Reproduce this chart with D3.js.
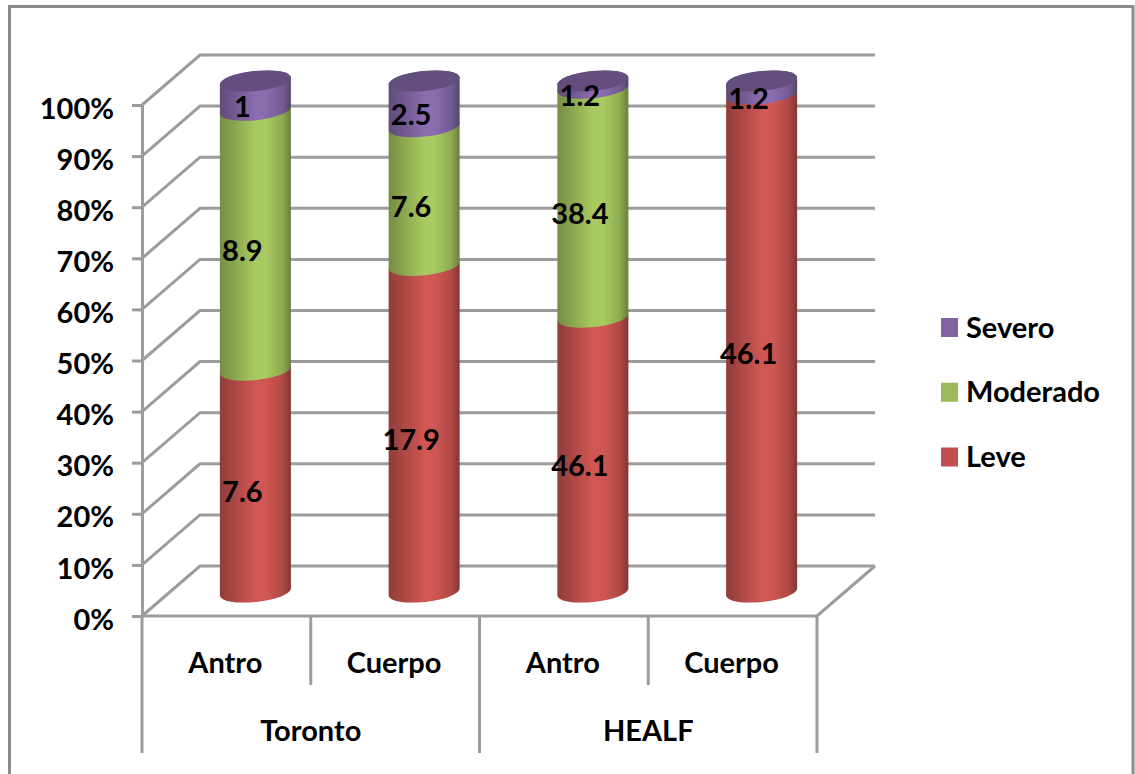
<!DOCTYPE html>
<html>
<head>
<meta charset="utf-8">
<script src="https://cdn.jsdelivr.net/npm/d3@7"></script>
<style>
  html, body { margin: 0; padding: 0; background: #fff; }
  svg { display: block; }
  text { font-family: Lato, "Open Sans", sans-serif; font-weight: 700; fill: #000; }
</style>
</head>
<body>
<svg id="chart" width="1135" height="774"></svg>
<script>
let groups = ["Toronto", "Toronto", "HEALF", "HEALF"];
let sites = ["Antro", "Cuerpo", "Antro", "Cuerpo"];
let keys = ["Leve", "Moderado", "Severo"];
let leve = [7.6, 17.9, 46.1, 46.1];
let moderado = [8.9, 7.6, 38.4, 0];
let severo = [1, 2.5, 1.2, 1.2];
let ticks = [0, 10, 20, 30, 40, 50, 60, 70, 80, 90, 100];
let legendOrder = ["Severo", "Moderado", "Leve"];
let colors = { Leve: "#c0504d", Moderado: "#9bbb59", Severo: "#8064a2" };

let svg = d3.select("#chart");
let defs = svg.append("defs");

// floor and walls sit on these, the bars halfway back
let depthX = 58, depthY = -50;
let tilt = -6, ry = 10;
let lineColor = "#9c9c9c";
let fontSize = "29px";

let rows = sites.map(function(s, i) {
  return { i: i, Leve: leve[i], Moderado: moderado[i], Severo: severo[i] };
});

let xScale = d3.scaleBand().domain(d3.range(sites.length)).range([142, 817]);
let yScale = d3.scaleLinear().domain([0, 1]).range([616, 105]);
let yTicks = d3.scaleLinear().domain([0, 100]).range([616, 105]);

let series = d3.stack().keys(keys).offset(d3.stackOffsetExpand)(rows);

// frame
svg.append("path")
  .attr("d", "M9.5,790V6.5H1133V790")
  .attr("fill", "none")
  .attr("stroke", "#8c8c8c")
  .attr("stroke-width", 3);

// gridlines bent along the side wall
let grid = svg.append("g")
  .attr("fill", "none")
  .attr("stroke", lineColor)
  .attr("stroke-width", 3);

grid.selectAll("path")
  .data(ticks)
  .enter()
  .append("path")
  .attr("d", function(d) {
    let y = yTicks(d);
    return d3.line()([[142, y], [142 + depthX, y + depthY], [817 + depthX, y + depthY]]);
  });

// floor front edge and side
grid.append("path").attr("d", "M142,616H817L" + (817 + depthX) + "," + (616 + depthY));

// value axis
let yAxis = d3.axisLeft(yTicks)
  .tickValues(ticks)
  .tickFormat(function(d) { return d + "%"; })
  .tickSize(10)
  .tickPadding(18);

let yG = svg.append("g")
  .attr("transform", "translate(142,0)")
  .call(yAxis);
yG.selectAll(".domain").attr("stroke", lineColor).attr("stroke-width", 3);
yG.selectAll(".tick line").attr("stroke", lineColor).attr("stroke-width", 3);
yG.selectAll("text").style("font-size", fontSize).attr("y", 3).attr("dy", "0.35em");

// category table under the floor
let bw = xScale.bandwidth();
let table = svg.append("g")
  .attr("stroke", lineColor)
  .attr("stroke-width", 3);

[0, 2, 4].forEach(function(i) {
  let x = 142 + i * bw;
  table.append("line").attr("x1", x).attr("x2", x).attr("y1", 616).attr("y2", 753);
});
[1, 3].forEach(function(i) {
  let x = 142 + i * bw;
  table.append("line").attr("x1", x).attr("x2", x).attr("y1", 616).attr("y2", 685);
});

svg.selectAll(".site")
  .data(sites)
  .enter()
  .append("text")
  .attr("class", "site")
  .attr("x", function(d, i) { return xScale(i) + bw / 2 - 1; })
  .attr("y", 673)
  .attr("text-anchor", "middle")
  .style("font-size", fontSize)
  .text(function(d) { return d; });

let groupNames = ["Toronto", "HEALF"];
svg.selectAll(".group")
  .data(groupNames)
  .enter()
  .append("text")
  .attr("class", "group")
  .attr("x", function(d) {
    let idx = groups.indexOf(d);
    return xScale(idx) + bw;
  })
  .attr("y", 741)
  .attr("text-anchor", "middle")
  .style("font-size", fontSize)
  .text(function(d) { return d; });

// side shading of the cylinders
keys.forEach(function(k) {
  let base = d3.color(colors[k]);
  let grad = defs.append("linearGradient").attr("id", "g" + k);
  grad.append("stop").attr("offset", "0%").attr("stop-color", base.darker(0.8));
  grad.append("stop").attr("offset", "50%").attr("stop-color", base.brighter(0.22));
  grad.append("stop").attr("offset", "65%").attr("stop-color", base.brighter(0.22));
  grad.append("stop").attr("offset", "88%").attr("stop-color", base.darker(0.25));
  grad.append("stop").attr("offset", "100%").attr("stop-color", base.darker(1.1));
});

let barW = 71;
let rx = barW / 2 / Math.cos(tilt * Math.PI / 180);
let rise = barW / 2 * Math.tan(tilt * Math.PI / 180);

function cx(i) { return xScale(i) + bw / 2 + depthX / 2; }
function cy(v) { return yScale(v) + depthY / 2 + 1; }

function tube(i, y0, y1) {
  let xl = cx(i) - barW / 2, xr = cx(i) + barW / 2;
  let a = "A" + rx + "," + ry + " " + tilt + " 0 0 ";
  return "M" + xl + "," + (y0 - rise) + a + xr + "," + (y0 + rise) +
    "L" + xr + "," + (y1 + rise) + a + xl + "," + (y1 - rise) + "Z";
}

let bars = svg.append("g");
series.forEach(function(s) {
  bars.selectAll(".b" + s.key)
    .data(s.filter(function(d) { return d[1] > d[0]; }))
    .enter()
    .append("path")
    .attr("class", "b" + s.key)
    .attr("fill", "url(#g" + s.key + ")")
    .attr("d", function(d) { return tube(d.data.i, cy(d[0]), cy(d[1])); });
});

// lid of each cylinder
bars.selectAll("ellipse")
  .data(rows)
  .enter()
  .append("ellipse")
  .attr("rx", rx)
  .attr("ry", ry)
  .attr("fill", d3.color(colors.Severo).darker(0.7))
  .attr("transform", function(d) {
    return "translate(" + cx(d.i) + "," + cy(1) + ") rotate(" + tilt + ")";
  });

// values, nudged toward the front like the original labels
series.forEach(function(s) {
  svg.selectAll(".v" + s.key)
    .data(s.filter(function(d) { return d[1] > d[0]; }))
    .enter()
    .append("text")
    .attr("class", "v" + s.key)
    .attr("x", function(d) { return cx(d.data.i) - 13; })
    .attr("y", function(d) { return cy((d[0] + d[1]) / 2) + 11; })
    .attr("dy", "0.35em")
    .attr("text-anchor", "middle")
    .style("font-size", fontSize)
    .text(function(d) { return d.data[s.key]; });
});

// legend
let legendY = d3.scalePoint().domain(legendOrder).range([327.5, 457]);
let legend = svg.selectAll(".legend")
  .data(legendOrder)
  .enter()
  .append("g")
  .attr("class", "legend")
  .attr("transform", function(d) { return "translate(941," + legendY(d) + ")"; });

legend.append("rect")
  .attr("x", 0)
  .attr("y", -9.5)
  .attr("width", 17)
  .attr("height", 19)
  .attr("fill", function(d) { return colors[d]; });

legend.append("text")
  .attr("x", 25)
  .attr("dy", "0.35em")
  .style("font-size", fontSize)
  .text(function(d) { return d; });
</script>
</body>
</html>
